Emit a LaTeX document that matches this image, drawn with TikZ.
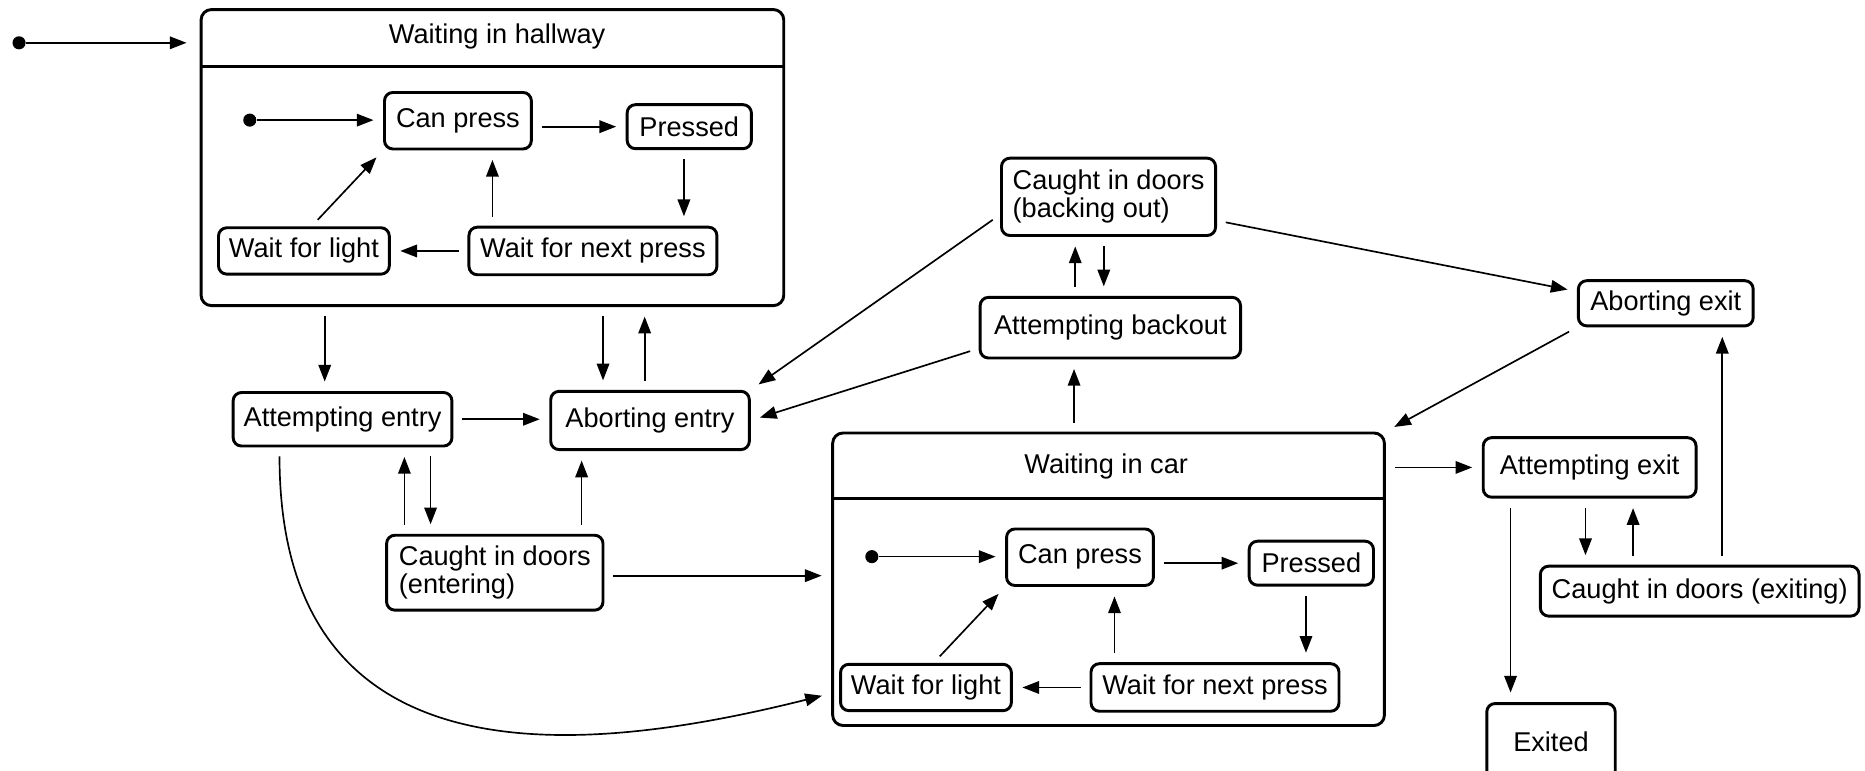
\documentclass[tikz,border=0pt]{standalone}
\usepackage{fontspec}
\setmainfont{Liberation Sans}
\usepackage{tikz}
\usetikzlibrary{arrows.meta}

\tikzset{
  state/.style={draw, rounded corners=4pt, line width=1.4pt, inner xsep=5pt, inner ysep=2pt,
    align=left, font=\fontsize{13pt}{13.5pt}\selectfont},
  super/.style={draw, rounded corners=5pt, line width=1.4pt, inner sep=0pt},
  title/.style={font=\fontsize{13pt}{13.5pt}\selectfont},
  arr/.style={-{Triangle[length=8pt,width=6pt]}, line width=0.8pt,
    shorten >=0.16cm, shorten <=0.15cm},
  initdot/.style={circle, fill, inner sep=0pt, minimum size=0.22cm},
}

\begin{document}
\begin{tikzpicture}[x=0.02cm, y=-0.02cm]
\useasboundingbox (0,0) rectangle (1568,648);

% composite states
\node[super, minimum width=9.8cm, minimum height=4.98cm] (hall) at (414,132.5) {};
\node[title] (halltitle) at (418,31) {Waiting in hallway};
\draw[line width=1.4pt] (hall.west |- 0,56) -- (hall.east |- 0,56);

\node[super, minimum width=9.28cm, minimum height=4.92cm] (car) at (932,487) {};
\node[title] (cartitle) at (930,392) {Waiting in car};
\draw[line width=1.4pt] (car.west |- 0,419) -- (car.east |- 0,419);

% same inner machine in both
\foreach \p/\dx/\dy in {h/0/0, c/523/367} {
\begin{scope}[shift={(\dx,\dy)}]
\node[initdot] (\p dot) at (210,101) {};
\node[state, minimum width=2.47cm, minimum height=0.95cm] (\p can) at (385,101.5) {Can press};
\node[state, minimum width=2.09cm, minimum height=0.74cm] (\p pre) at (579.5,106.5) {Pressed};
\node[state, minimum width=4.17cm, minimum height=0.8cm] (\p wnp) at (498.5,211) {Wait for next press};
\node[state, minimum width=2.86cm, minimum height=0.78cm] (\p wfl) at (255.5,211) {Wait for light};
\draw[arr, shorten <=0pt] (\p dot) -- (\p can.west |- \p dot);
\draw[arr] (\p can.east |- \p pre) -- (\p pre);
\draw[arr] (575,0 |- \p pre.south) -- (575,0 |- \p wnp.north);
\draw[arr] (\p wnp) -- (\p wfl);
\draw[arr] ([xshift=0.13cm]\p wfl.north) -- (\p can.south west);
\draw[arr] (414,0 |- \p wnp.north) -- (414,0 |- \p can.south);
\end{scope}
}

\node[state, minimum width=3.68cm, minimum height=0.9cm] (aent) at (288,352.5) {Attempting entry};
\node[state, minimum width=3.34cm, minimum height=0.98cm] (abent) at (546.5,353.5) {Aborting entry};
\node[state, minimum width=3.64cm, minimum height=1.26cm] (cden) at (416,481.5) {Caught in doors\\(entering)};
\node[state, minimum width=3.6cm, minimum height=1.3cm] (cdback) at (932,165.5) {Caught in doors\\(backing out)};
\node[state, minimum width=4.38cm, minimum height=1.02cm] (attback) at (933.5,275.5) {Attempting backout};
\node[state, minimum width=2.94cm, minimum height=0.76cm] (abexit) at (1400.5,255) {Aborting exit};
\node[state, minimum width=3.58cm, minimum height=1.0cm] (attexit) at (1336.5,393) {Attempting exit};
\node[state, minimum width=5.36cm, minimum height=0.84cm] (cdexit) at (1429,497) {Caught in doors (exiting)};
\node[state, minimum width=2.16cm, minimum height=1.3cm] (exited) at (1304,624) {Exited};

\node[initdot] (start) at (16,36) {};
\draw[arr, shorten <=0pt, shorten >=0.22cm] (start) -- (hall.west |- start);

\draw[arr] (273,0 |- hall.south) -- (273,0 |- aent.north);
\draw[arr] (507,0 |- hall.south) -- (507,0 |- abent.north);
\draw[arr] (542,0 |- abent.north) -- (542,0 |- hall.south);
\draw[arr] (aent.east) -- (abent.west |- aent.east);
\draw[arr] (362,0 |- aent.south) -- (362,0 |- cden.north);
\draw[arr] (340,0 |- cden.north) -- (340,0 |- aent.south);
\draw[arr] (489,0 |- cden.north) -- (489,0 |- abent.south);
\draw[arr] (cden.east |- 0,484) -- (car.west |- 0,484);
\draw[arr] (235,0 |- aent.south) .. controls +(0,290) and +(-200,50) .. (car.west |- 0,583);

\draw[arr] ([yshift=-0.3cm]cdback.west) -- (abent.north east);
\draw[arr] ([yshift=-0.35cm]attback.west) -- (abent.east);
\draw[arr] (904,0 |- attback.north) -- (904,0 |- cdback.south);
\draw[arr] (928,0 |- cdback.south) -- (928,0 |- attback.north);
\draw[arr] (903,0 |- car.north) -- (903,0 |- attback.south);
\draw[arr] ([yshift=-0.4cm]cdback.east) -- ([yshift=0.2cm]abexit.west);
\draw[arr] (abexit.south west) -- (car.north east);

\draw[arr] (car.east |- attexit) -- (attexit);
\draw[arr] (1270,0 |- attexit.south) -- (1270,0 |- exited.north);
\draw[arr] (1333,0 |- attexit.south) -- (1333,0 |- cdexit.north);
\draw[arr] (1373,0 |- cdexit.north) -- (1373,0 |- attexit.south);
\draw[arr] (1448,0 |- cdexit.north) -- (1448,0 |- abexit.south);

\end{tikzpicture}
\end{document}
